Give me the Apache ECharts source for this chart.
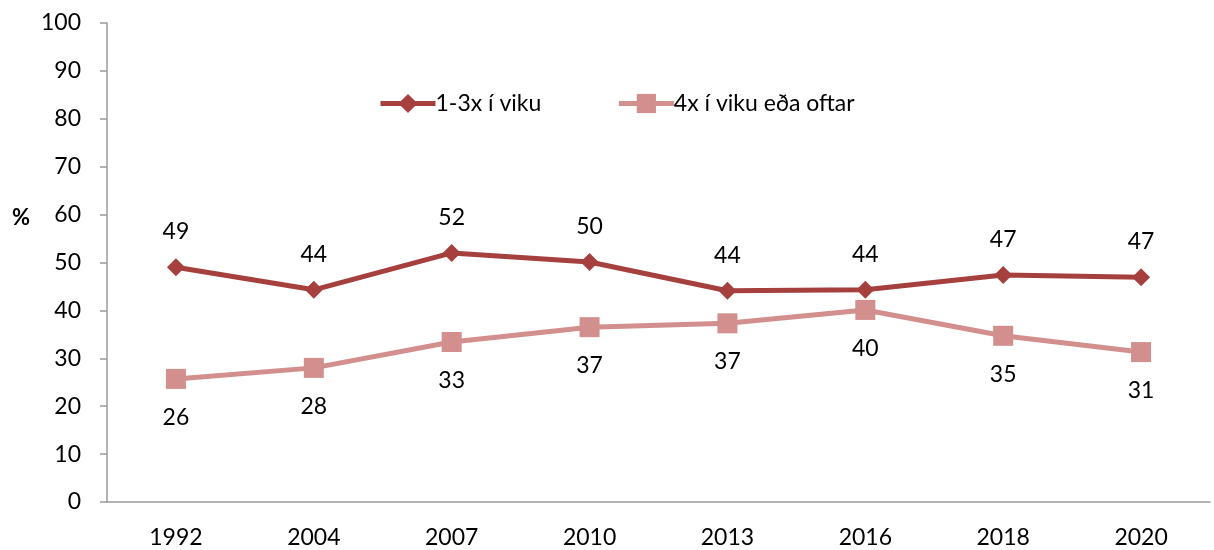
<!DOCTYPE html>
<html>
<head>
<meta charset="utf-8">
<style type="text/css">
html, body {margin: 0; padding: 0; background: #fff;}
#myChart {width: 1214px; height: 550px;}
</style>
<script src="https://cdn.jsdelivr.net/npm/echarts@6/dist/echarts.min.js"></script>
</head>
<body>
<div id="myChart"></div>
<script>
// gögn lesin af myndinni
var years = ['1992', '2004', '2007', '2010', '2013', '2016', '2018', '2020'];
var vikulega = [49.0, 44.3, 52.0, 50.1, 44.1, 44.3, 47.4, 46.9];   // 1-3x í viku
var oftar = [25.7, 28.0, 33.4, 36.5, 37.3, 40.1, 34.7, 31.3];      // 4x í viku eða oftar
var yTicks = [0, 10, 20, 30, 40, 50, 60, 70, 80, 90, 100];

var font = 'Lato, "Open Sans", sans-serif';
var fs = 23;
var axisColor = '#9a9a9a';

var myChart = echarts.init(document.getElementById('myChart'));
var options = {
    animation: false,
    textStyle: {fontFamily: font},
    grid: {left: 107, right: 4, top: 23, bottom: 48, containLabel: false},
    legend: {
        top: 92,
        left: 378,
        padding: 0,
        itemGap: 75,
        itemWidth: 55,
        itemHeight: 24,
        lineStyle: {width: 5},
        textStyle: {fontSize: fs, color: '#000', fontFamily: font, padding: [0, 0, 0, -5]},
        data: ['1-3x í viku', '4x í viku eða oftar']
    },
    graphic: [{
        type: 'text',
        left: 12,
        top: 207,
        style: {text: '%', fontSize: 22, fontWeight: 'bold', fill: '#000', fontFamily: font}
    }],
    xAxis: {
        type: 'category',
        boundaryGap: true,
        data: years,
        axisLine: {lineStyle: {color: axisColor, width: 1.5}},
        axisTick: {length: 7, lineStyle: {color: axisColor, width: 1.5}},
        axisLabel: {fontSize: fs, color: '#000', margin: 24, fontFamily: font}
    },
    yAxis: {
        type: 'value',
        min: yTicks[0],
        max: yTicks[yTicks.length - 1],
        interval: 10,
        splitLine: {show: false},
        axisLine: {show: true, lineStyle: {color: axisColor, width: 1.5}},
        axisTick: {show: true, length: 7, lineStyle: {color: axisColor, width: 1.5}},
        axisLabel: {fontSize: fs, color: '#000', margin: 26, fontFamily: font}
    },
    series: [{
        name: '1-3x í viku',
        type: 'line',
        data: vikulega,
        symbol: 'diamond',
        symbolSize: 18,
        color: '#a6403e',
        lineStyle: {width: 5, color: '#a6403e'},
        itemStyle: {color: '#a6403e'},
        label: {
            show: true, position: 'top', distance: 15, fontSize: fs, color: '#000', fontFamily: font,
            formatter: function (p) { return Math.round(p.value); }
        },
        z: 3
    }, {
        name: '4x í viku eða oftar',
        type: 'line',
        data: oftar,
        symbol: 'rect',
        symbolSize: 20,
        color: '#d38e8e',
        lineStyle: {width: 5, color: '#d38e8e'},
        itemStyle: {color: '#d38e8e'},
        label: {
            show: true, position: 'bottom', distance: 17, fontSize: fs, color: '#000', fontFamily: font,
            formatter: function (p) { return Math.round(p.value); }
        },
        z: 2
    }]
};
myChart.setOption(options);
</script>
</body>
</html>
